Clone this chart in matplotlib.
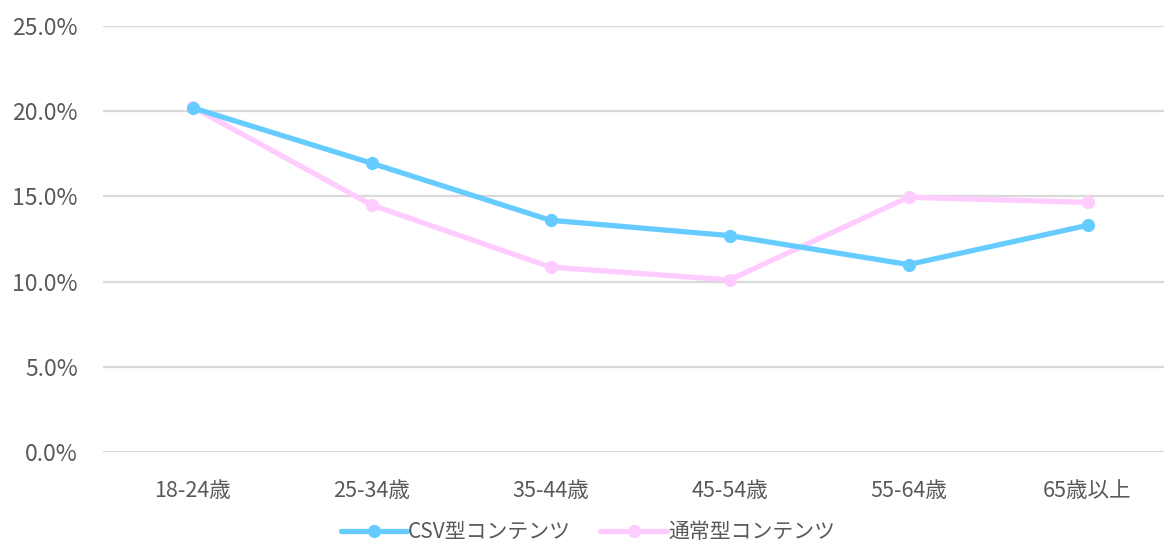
import matplotlib
matplotlib.use('Agg')
import matplotlib.pyplot as plt
from matplotlib.ticker import FuncFormatter

plt.rcParams['font.family'] = ['Noto Sans CJK JP', 'DejaVu Sans']

categories = ['18-24歳', '25-34歳', '35-44歳', '45-54歳', '55-64歳', '65歳以上']
csv_vals = [20.2, 16.95, 13.6, 12.7, 11.0, 13.3]
normal_vals = [20.25, 14.5, 10.85, 10.1, 14.95, 14.65]
yticks = [0, 5, 10, 15, 20, 25]

fig = plt.figure(figsize=(11.64, 5.43), dpi=100)
ax = fig.add_axes([103 / 1164, 91 / 543, 1074 / 1164, 426 / 543])

x = range(len(categories))
ax.plot(x, csv_vals, color='#66CCFF', lw=3.8, marker='o', ms=8.5,
        label='CSV型コンテンツ', solid_capstyle='round', zorder=3)
ax.plot(x, normal_vals, color='#FFCCFF', lw=3.8, marker='o', ms=8.5,
        label='通常型コンテンツ', solid_capstyle='round', zorder=2)

ax.set_xlim(-0.5, len(categories) - 0.5)
ax.set_ylim(0, 25)
ax.set_yticks(yticks)
ax.yaxis.set_major_formatter(FuncFormatter(lambda v, p: f'{v:.1f}%'))
ax.set_xticks(list(x))
ax.set_xticklabels(categories)
ax.grid(axis='y', color='#D9D9D9', lw=1.6)
ax.set_axisbelow(True)
for s in ax.spines.values():
    s.set_visible(False)
ax.tick_params(axis='both', length=0, colors='#595959')
ax.tick_params(axis='y', labelsize=16.5, pad=18)
ax.tick_params(axis='x', labelsize=15.5, pad=20)

fig.legend(loc='lower center', bbox_to_anchor=(0.505, -0.035), ncol=2, frameon=False,
           fontsize=15, labelcolor='#595959', handlelength=3.2, columnspacing=1.4,
           handletextpad=0.05)

fig.savefig('out.png', dpi=100)
